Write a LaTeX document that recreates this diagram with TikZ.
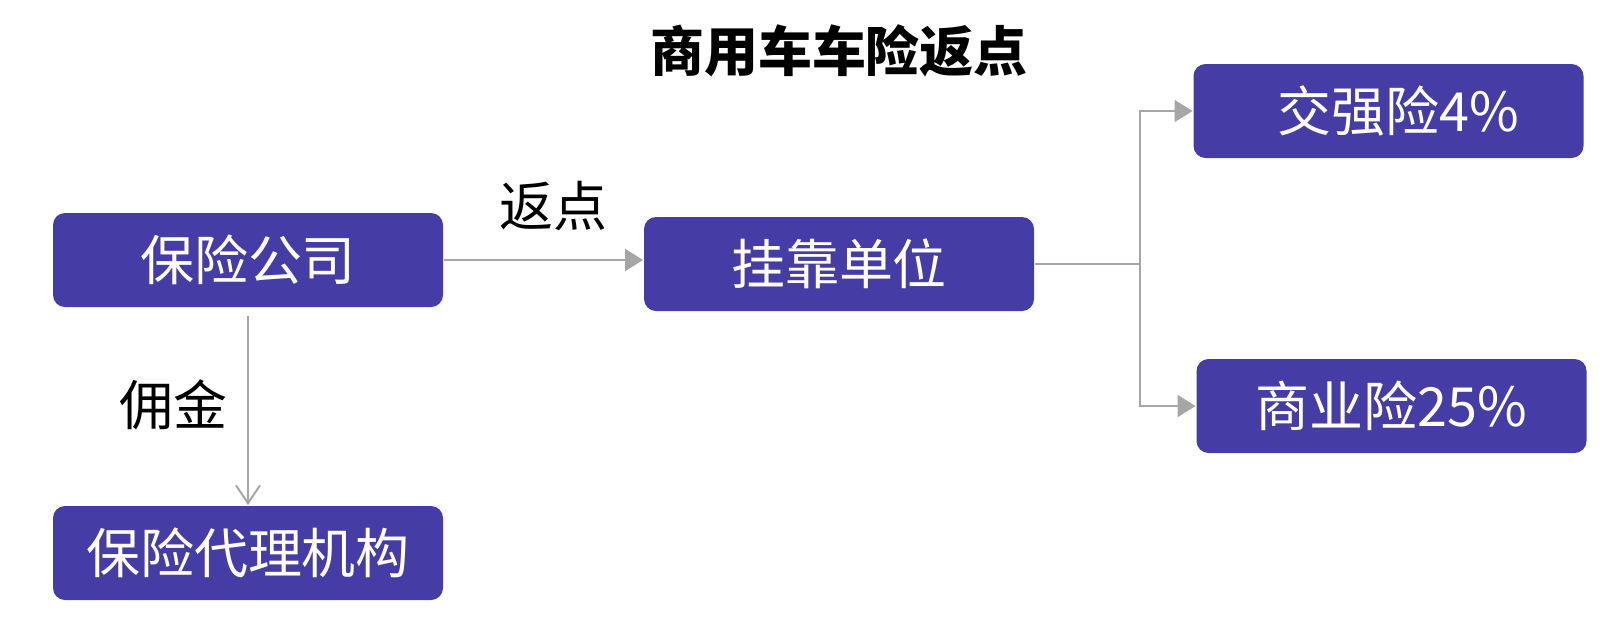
\documentclass[tikz,border=0pt]{standalone}
\usepackage{fontspec}
\setmainfont{Noto Sans CJK SC}
\usetikzlibrary{arrows.meta}
\definecolor{boxblue}{HTML}{453CA6}
\definecolor{linegray}{HTML}{A6A6A6}
\tikzset{ t/.style = { rectangle % label text
        , font = \fontsize{30.7}{36}\selectfont
        , text = black
        }
        , tt/.style = { rectangle % title
        , font = \fontsize{30.7}{36}\selectfont\bfseries
        , text = black
        }
        }

\begin{document}
\begin{tikzpicture}[line width=1.1pt,
        node_style/.style={rectangle,rounded corners=0.24cm,fill=boxblue,text=white,minimum width=7.8cm,minimum height=1.88cm,font=\fontsize{30.7}{36}\selectfont},
        edge_style/.style={draw=linegray,-{Triangle[length=0.36cm,width=0.44cm]}},
        open_edge_style/.style={draw=linegray,shorten <=0.16cm,-{Straight Barb[length=0.36cm,width=0.48cm]}}]
        \useasboundingbox (0,0) rectangle (32.28,-12.52);

        \node [tt](title) at (16.78,-1.02) {商用车车险返点};
        \node [node_style](n_company) at (4.96,-5.20) {保险公司};
        \node [node_style](n_guakao) at (16.78,-5.28) {挂靠单位};
        \node [node_style](n_jiaoqiang) at (27.77,-2.22) {\hspace{0.4cm}交强险4\%};
        \node [node_style](n_shangye) at (27.83,-8.12) {商业险25\%};
        \node [node_style](n_agent) at (4.96,-11.06) {保险代理机构};
        \node [t](l_fandian) at (11.06,-4.12) {返点};
        \node [t](l_yongjin) at (3.46,-8.10) {佣金};
        \coordinate (branch) at (22.80,-5.28);

        \draw [edge_style] (n_company.east) -- (n_company.east -| n_guakao.west);
        \draw [open_edge_style] (n_company.south) -- (n_agent.north);
        \draw [draw=linegray] (n_guakao.east) -- (branch);
        \draw [edge_style] (branch) |- (n_jiaoqiang.west);
        \draw [edge_style] (branch) |- (n_shangye.west);
\end{tikzpicture}
\end{document}
